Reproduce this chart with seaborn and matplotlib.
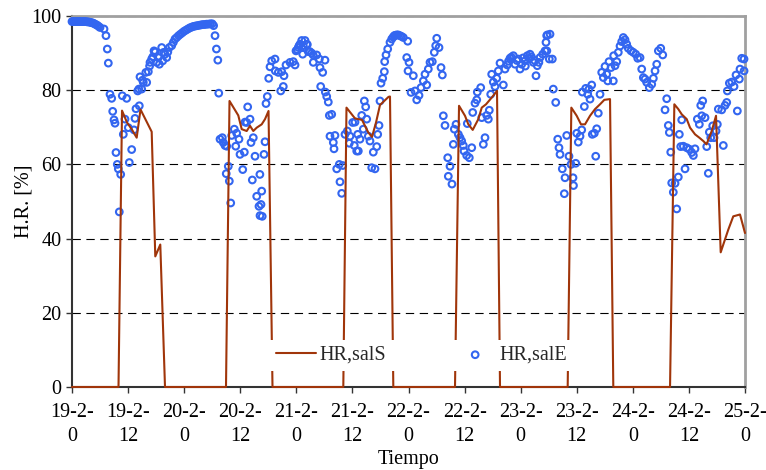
import pandas as pd
import seaborn as sns
import matplotlib.pyplot as plt

# hour since 19-2 0h, relative humidity [%]
hr_salS = [(0, 0), (9.95, 0), (10.7, 74.5), (11.77, 71.3), (12.77, 69.5), (13.84, 67.2),
           (14.66, 74.8), (17.05, 68.8), (17.82, 35.2), (18.89, 38.4), (19.9, 0),
           (32.95, 0), (33.7, 77.1), (35.58, 73.2), (36.31, 69.5), (37.38, 69.0), (38.09, 70.4),
           (38.79, 69.0), (39.52, 69.9), (40.59, 70.8), (41.3, 72.2), (42.05, 74.4), (42.9, 0),
           (58.05, 0), (58.73, 75.3), (60.55, 72.4), (62.05, 72.0), (63.4, 68.6), (64.19, 67.4),
           (65.05, 71.3), (65.9, 76.0), (67.72, 78.2), (68.04, 78.3), (68.75, 0),
           (81.95, 0), (82.81, 75.8), (84.09, 73.1), (84.8, 70.8), (85.74, 69.3), (86.94, 72.2),
           (87.67, 75.3), (88.59, 76.2), (89.8, 78.0), (90.94, 79.8), (91.58, 0),
           (106.06, 0), (106.84, 75.3), (107.99, 73.1), (108.91, 70.8), (109.77, 70.8), (110.84, 73.1),
           (111.91, 74.9), (112.98, 76.2), (113.9, 77.4), (115.12, 77.6), (115.82, 0),
           (127.96, 0), (128.88, 76.2), (129.73, 74.9), (130.46, 73.5), (131.53, 72.2), (132.24, 69.9),
           (133.31, 68.1), (134.23, 67.2), (135.08, 66.3), (135.77, 65.4), (136.88, 69.0), (137.8, 73.1),
           (138.8, 36.3), (140.42, 42.4), (141.49, 46.0), (142.93, 46.5), (144.0, 41.5)]

salE_19a = [(0.0, 98.5), (0.3, 98.5), (0.6, 98.5), (0.9, 98.5), (1.2, 98.5), (1.5, 98.5),
            (1.8, 98.5), (2.1, 98.5), (2.4, 98.5), (2.7, 98.5), (3.0, 98.5), (3.3, 98.4),
            (3.6, 98.4), (3.9, 98.3), (4.2, 98.2), (4.5, 98.1), (4.8, 97.9), (5.1, 97.7),
            (5.4, 97.5), (5.7, 97.2), (6.0, 96.9), (6.85, 96.5), (7.27, 94.7), (7.55, 91.1),
            (7.77, 87.3), (8.13, 78.9), (8.49, 77.8), (8.71, 74.3), (8.99, 72.0), (9.2, 71.1),
            (9.41, 63.2), (9.69, 60.0), (9.91, 58.8), (10.12, 47.2), (10.42, 57.3), (10.76, 78.5)]
salE_19b = [(10.98, 68.1), (11.34, 72.2), (11.7, 77.8), (12.05, 69.9), (12.26, 60.5), (12.77, 64.0),
            (13.27, 69.3), (13.48, 72.4), (13.69, 75.0), (14.06, 79.8), (14.3, 80.3), (14.4, 75.8),
            (14.55, 83.6), (14.91, 80.3), (15.1, 82.7), (15.26, 82.1), (15.8, 84.8), (15.98, 82.1),
            (16.33, 85.0), (16.6, 86.5), (16.69, 87.5), (17.05, 88.4), (17.3, 89.0), (17.55, 90.6),
            (17.8, 90.3), (18.12, 87.5), (18.47, 88.8), (18.7, 87.0), (19.19, 91.5), (19.41, 87.9),
            (19.6, 90.2), (19.9, 89.7), (20.26, 88.8), (20.5, 90.3), (20.82, 91.5), (21.33, 92.0),
            (21.68, 92.9)]
salE_20a = [(22.04, 93.8), (22.4, 94.2), (22.8, 94.7), (23.2, 95.1), (23.6, 95.5), (24.0, 95.9),
            (24.4, 96.2), (24.8, 96.5), (25.2, 96.8), (25.6, 97.0), (26.0, 97.2), (26.4, 97.3),
            (26.8, 97.4), (27.2, 97.5), (27.6, 97.6), (28.0, 97.7), (28.4, 97.7), (28.8, 97.8),
            (29.2, 97.8), (29.6, 97.9), (30.0, 97.9), (30.3, 97.4), (30.6, 94.7), (30.9, 91.1),
            (31.2, 88.1), (31.4, 79.2)]
salE_20b = [(31.67, 66.8), (32.16, 67.2), (32.37, 65.9), (32.74, 65.1), (33.0, 57.5), (33.1, 64.9),
            (33.44, 59.5), (33.66, 55.5), (33.96, 49.6), (34.17, 67.8), (34.73, 69.5), (35.03, 64.9),
            (35.24, 68.4), (35.73, 66.8), (35.95, 62.7), (36.53, 58.6), (36.87, 63.3), (37.02, 71.4),
            (37.38, 71.3), (37.59, 75.5), (38.09, 72.2), (38.3, 65.9), (38.58, 55.8), (38.79, 67.2),
            (39.16, 62.2), (39.52, 51.4), (40.01, 48.7), (40.2, 57.3), (40.23, 46.2), (40.44, 49.2),
            (40.59, 52.8), (40.7, 46.0), (41.08, 62.7), (41.3, 66.1), (41.51, 76.4), (41.79, 78.3),
            (42.09, 83.2), (42.37, 86.3), (42.73, 87.9), (43.44, 88.4), (43.5, 85.2)]
salE_21 = [(44.14, 84.8), (44.66, 79.8), (44.87, 85.0), (45.21, 81.0), (45.36, 83.9), (45.79, 86.8),
           (46.65, 87.5), (47.35, 87.7), (47.72, 86.8), (47.93, 90.6), (48.2, 90.9), (48.42, 91.5),
           (48.6, 92.0), (48.79, 92.4), (49.15, 93.4), (49.36, 89.7), (49.49, 92.0), (49.86, 93.4),
           (50.22, 92.4), (50.35, 92.3), (50.56, 90.4), (50.9, 90.4), (51.29, 90.0), (51.6, 89.5),
           (51.63, 87.5), (52.36, 89.5), (52.92, 88.4), (53.06, 86.1), (53.21, 81.0), (53.64, 84.8),
           (54.13, 88.1), (54.2, 79.5), (54.5, 78.3), (54.84, 76.8), (55.06, 73.2), (55.2, 67.6),
           (55.57, 73.5), (55.91, 65.9), (56.06, 64.2), (56.27, 67.8), (56.64, 58.8), (57.19, 60.0),
           (57.34, 55.3), (57.71, 52.2), (57.92, 59.7), (58.41, 68.1), (58.91, 69.0), (59.33, 65.7),
           (59.48, 67.6), (60.06, 71.3), (60.4, 65.1), (60.55, 71.4), (60.92, 63.6)]
salE_22 = [(61.13, 68.1), (61.26, 63.6), (61.62, 66.8), (61.99, 73.2), (62.33, 69.5), (62.55, 77.1),
           (62.84, 75.5), (63.06, 72.2), (63.4, 67.6), (63.76, 66.3), (64.13, 59.1), (64.47, 63.3),
           (64.83, 58.8), (65.2, 64.8), (65.41, 68.1), (65.69, 70.5), (65.9, 77.1), (66.12, 81.9),
           (66.48, 83.2), (66.83, 85.0), (66.9, 87.7), (67.19, 89.5), (67.55, 91.1), (68.04, 92.9),
           (68.41, 93.8), (68.7, 94.3), (68.96, 94.7), (69.2, 94.8), (69.48, 94.9), (69.8, 94.9),
           (70.18, 94.7), (70.5, 94.5), (70.89, 94.2), (71.62, 88.8), (71.83, 93.2), (71.9, 85.2),
           (72.11, 87.5), (72.54, 79.4), (73.03, 83.9), (73.39, 79.8), (73.76, 77.4), (74.25, 78.6),
           (74.68, 80.7), (75.17, 82.5), (75.53, 84.3), (75.9, 81.4), (76.24, 85.7), (76.6, 87.5),
           (77.09, 87.7), (77.52, 90.2), (77.82, 92.0), (78.04, 94.0), (78.53, 91.5), (78.96, 86.1),
           (79.24, 84.1), (79.45, 73.1), (79.81, 70.5), (80.39, 61.8), (80.52, 56.8), (80.88, 59.5),
           (81.3, 54.7), (81.59, 65.4), (81.8, 69.5)]
salE_23 = [(82.17, 70.8), (82.66, 68.1), (83.02, 67.2), (83.38, 66.3), (83.73, 65.1), (83.88, 63.6),
           (84.45, 62.4), (84.58, 71.0), (85.01, 61.8), (85.53, 64.5), (85.74, 74.0), (86.23, 76.5),
           (86.6, 77.4), (86.72, 79.5), (87.45, 80.7), (87.67, 72.6), (88.01, 65.4), (88.37, 67.2),
           (88.73, 73.2), (89.08, 72.2), (89.29, 74.6), (89.59, 78.9), (89.8, 84.3), (90.15, 82.2),
           (90.51, 81.0), (90.87, 83.2), (91.22, 85.2), (91.58, 87.3), (92.29, 81.4), (92.65, 85.7),
           (93.14, 86.8), (93.4, 87.8), (93.72, 88.6), (94.0, 88.9), (94.43, 89.3), (94.79, 87.0),
           (95.2, 88.0), (95.5, 88.4), (95.86, 85.7), (96.22, 87.0), (96.5, 88.7), (96.93, 87.9),
           (97.0, 86.5), (97.42, 89.3), (97.8, 88.6), (98.0, 89.7), (98.3, 89.0), (98.71, 87.5),
           (99.0, 88.0), (99.28, 83.9), (99.56, 86.6), (99.9, 87.5), (100.14, 88.8), (100.72, 89.7),
           (101.21, 90.6), (101.42, 92.9), (101.57, 94.7), (101.6, 90.6), (101.7, 94.9), (102.13, 88.4)]
salE_24 = [(102.28, 95.1), (102.77, 88.4), (102.98, 80.3), (103.5, 76.7), (103.93, 66.8), (104.2, 64.5),
           (104.42, 62.7), (104.91, 58.8), (105.34, 52.1), (105.49, 56.4), (105.85, 67.8), (106.34, 62.2),
           (106.77, 60.0), (107.2, 56.4), (107.3, 54.3), (107.78, 60.3), (107.99, 68.4), (108.33, 66.0),
           (108.7, 67.6), (109.06, 69.3), (109.19, 79.5), (109.62, 75.6), (109.92, 80.5), (110.35, 78.9),
           (110.62, 80.3), (110.84, 77.6), (111.2, 81.4), (111.33, 68.1), (111.76, 68.4), (112.06, 62.2),
           (112.27, 69.6), (112.61, 73.8), (112.98, 78.9), (113.34, 84.8), (113.69, 83.4), (114.05, 86.4),
           (114.41, 84.3), (114.63, 82.5), (114.9, 87.7), (115.33, 86.1), (115.82, 82.5), (115.9, 89.3),
           (116.19, 86.6), (116.55, 87.7), (116.89, 90.2), (117.26, 91.9), (117.62, 93.1), (117.96, 94.2),
           (118.33, 93.6), (118.69, 92.4), (119.03, 91.3), (119.61, 90.6), (120.1, 90.2), (120.62, 89.7),
           (121.05, 88.6)]
salE_25 = [(121.54, 88.8), (121.9, 85.7), (122.25, 83.4), (122.61, 83.0), (122.97, 82.1), (123.53, 80.7),
           (124.04, 81.6), (124.39, 83.2), (124.75, 85.2), (125.11, 87.0), (125.46, 90.6), (125.97, 91.3),
           (126.4, 89.5), (126.89, 74.7), (127.25, 77.7), (127.59, 70.5), (127.81, 68.6), (128.11, 63.3),
           (128.32, 55.0), (128.66, 52.5), (129.03, 54.9), (129.39, 48.0), (129.73, 56.6), (129.95, 68.1),
           (130.25, 64.8), (130.46, 72.0), (130.81, 64.9), (131.17, 58.8), (131.53, 64.5), (132.09, 64.1),
           (132.6, 63.2), (132.95, 62.4), (133.3, 64.2), (133.8, 72.2), (134.23, 70.8), (134.53, 75.9),
           (134.74, 73.1), (134.95, 77.1), (135.45, 72.6), (135.81, 64.8), (136.15, 57.6), (136.37, 68.7),
           (136.67, 67.2), (137.09, 70.4), (137.37, 67.2), (137.8, 69.0), (138.08, 70.8), (138.29, 74.9),
           (139.02, 74.7), (139.36, 65.1), (139.73, 75.9), (140.09, 76.7), (140.22, 79.8), (140.65, 81.9),
           (141.16, 82.2), (141.65, 81.0), (142.08, 84.1), (142.36, 74.4), (142.79, 83.0), (142.93, 85.7),
           (143.3, 88.6), (143.79, 88.4), (143.8, 85.2)]

tick_hours = [0, 12, 24, 36, 48, 60, 72, 84, 96, 108, 120, 132, 144]
tick_labels = ["19-2-\n0", "19-2-\n12", "20-2-\n0", "20-2-\n12", "21-2-\n0", "21-2-\n12",
               "22-2-\n0", "22-2-\n12", "23-2-\n0", "23-2-\n12", "24-2-\n0", "24-2-\n12",
               "25-2-\n0"]

line_df = pd.DataFrame(hr_salS, columns=['hora', 'HR'])
scat_df = pd.DataFrame(salE_19a + salE_19b + salE_20a + salE_20b + salE_21 + salE_22
                       + salE_23 + salE_24 + salE_25, columns=['hora', 'HR'])

sns.set_theme(style='white')
plt.rcParams['font.family'] = ['Liberation Serif', 'DejaVu Serif']
fs = 14.5

fig = plt.figure(figsize=(7.66, 4.70), dpi=100)
ax = fig.add_axes([72/766, 1 - 387/470, 673/766, 371/470])

sns.lineplot(data=line_df, x='hora', y='HR', sort=False, estimator=None, ax=ax,
             color='#A0350A', linewidth=1.5, label='HR,salS', zorder=3, clip_on=False)
sns.scatterplot(data=scat_df, x='hora', y='HR', ax=ax, marker='o', s=23,
                facecolors='none', edgecolor='#3366F0', linewidth=1.5,
                label='HR,salE', zorder=2.6, clip_on=False)

ax.set_xlim(0, 144)
ax.set_ylim(0, 100)
ax.set_xticks(tick_hours)
ax.set_xticklabels(tick_labels, fontsize=fs, linespacing=1.35)
ax.set_yticks([0, 20, 40, 60, 80, 100])
ax.tick_params(axis='y', labelsize=fs, pad=3)
ax.tick_params(axis='x', pad=7)
ax.tick_params(axis='both', direction='out', length=4.5, width=1, color='#333333',
               labelcolor='black', bottom=True, left=True)

ax.set_axisbelow(True)
ax.yaxis.grid(True, color='black', linestyle=(0, (7.5, 5)), linewidth=0.8)
ax.xaxis.grid(False)

for side in ['top', 'right']:
    ax.spines[side].set_color('#a0a0a0')
    ax.spines[side].set_linewidth(2)
for side in ['left', 'bottom']:
    ax.spines[side].set_color('#333333')
    ax.spines[side].set_linewidth(1.5)

ax.set_xlabel('Tiempo', fontsize=fs, color='black')
ax.set_ylabel('H.R. [%]', fontsize=fs, color='black')
ax.xaxis.set_label_coords(0.5, -0.17)
ax.yaxis.set_label_coords(-0.057, 0.5)

handles, labels = ax.get_legend_handles_labels()
ax.legend(handles, labels, ncol=2, loc='center', bbox_to_anchor=(0.519, 0.085),
          frameon=True, framealpha=1, facecolor='white', edgecolor='none', fancybox=False,
          handlelength=2.0, handletextpad=0.2, columnspacing=3.4, borderpad=0.3,
          fontsize=fs, scatterpoints=1)

fig.savefig('out.png', dpi=100)
